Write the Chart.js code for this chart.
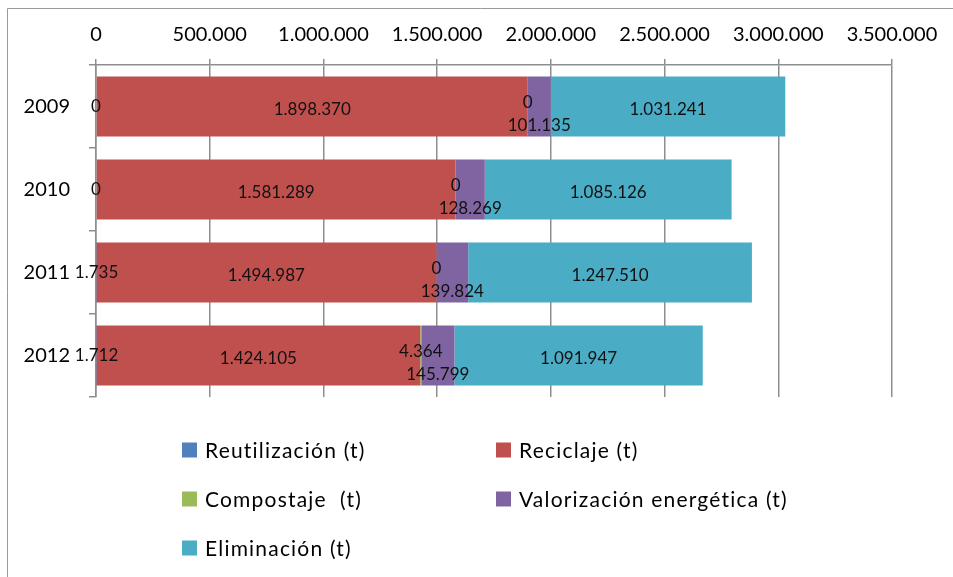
<!DOCTYPE html>
<html>
<head>
<meta charset="utf-8">
<script src="https://cdn.jsdelivr.net/npm/chart.js@4/dist/chart.umd.min.js"></script>
<style>
  html, body { margin: 0; padding: 0; background: #fff; }
  #wrap { position: relative; width: 953px; height: 577px; }
</style>
</head>
<body>
<div id="wrap"><canvas id="bar-chart" width="953" height="577"></canvas></div>
<script>
// Datos del gráfico
const anios = ['2009', '2010', '2011', '2012'];
const reutilizacion = [0, 0, 1735, 1712];
const reciclaje = [1898370, 1581289, 1494987, 1424105];
const compostaje = [0, 0, 0, 4364];
const valorizacion = [101135, 128269, 139824, 145799];
const eliminacion = [1031241, 1085126, 1247510, 1091947];
const ticksX = [0, 500000, 1000000, 1500000, 2000000, 2500000, 3000000, 3500000];

const fuente = 'Lato, "Open Sans", sans-serif';
const gris = '#8e8e8e';

function formato(v) {
    return String(Math.round(v)).replace(/\B(?=(\d{3})+(?!\d))/g, '.');
}

// desplazamiento vertical de las etiquetas por serie
const desplLabels = [0, 3, -4, 19, 3];

const etiquetasPlugin = {
    id: 'etiquetas',
    afterDatasetsDraw(chart) {
        const ctx = chart.ctx;
        ctx.save();
        ctx.font = '17px ' + fuente;
        ctx.fillStyle = '#111';
        ctx.textAlign = 'center';
        ctx.textBaseline = 'middle';
        chart.data.datasets.forEach((ds, i) => {
            chart.getDatasetMeta(i).data.forEach((bar, j) => {
                const cx = (bar.x + bar.base) / 2;
                ctx.fillText(formato(ds.data[j]), cx, bar.y + desplLabels[i]);
            });
        });
        ctx.restore();
    }
};

const leyendaPlugin = {
    id: 'leyendaGrid',
    afterDraw(chart) {
        const ctx = chart.ctx;
        const cols = [182, 496];
        const filas = [450, 499, 548];
        ctx.save();
        ctx.font = '21px ' + fuente;
        ctx.letterSpacing = '1.2px';
        ctx.textBaseline = 'middle';
        ctx.textAlign = 'left';
        chart.data.datasets.forEach((ds, i) => {
            const x = cols[i % 2];
            const y = filas[Math.floor(i / 2)];
            ctx.fillStyle = ds.backgroundColor;
            ctx.fillRect(x, y - 7.5, 15, 15);
            ctx.fillStyle = '#000';
            ctx.fillText(ds.label, x + 23, y + 1);
        });
        ctx.restore();
    }
};

const marcoPlugin = {
    id: 'marco',
    beforeDraw(chart) {
        const ctx = chart.ctx;
        ctx.save();
        ctx.strokeStyle = '#9a9a9a';
        ctx.lineWidth = 1;
        ctx.beginPath();
        ctx.moveTo(7.5, chart.height);
        ctx.lineTo(7.5, 8.5);
        ctx.lineTo(chart.width, 8.5);
        ctx.stroke();
        ctx.restore();
    }
};

const config = {
    type: 'bar',
    data: {
        labels: anios,
        datasets: [
            { label: 'Reutilización (t)', data: reutilizacion, backgroundColor: '#4F81BD' },
            { label: 'Reciclaje (t)', data: reciclaje, backgroundColor: '#C0504D' },
            { label: 'Compostaje  (t)', data: compostaje, backgroundColor: '#9BBB59' },
            { label: 'Valorización energética (t)', data: valorizacion, backgroundColor: '#8064A2' },
            { label: 'Eliminación (t)', data: eliminacion, backgroundColor: '#4BACC6' }
        ]
    },
    options: {
        indexAxis: 'y',
        responsive: false,
        animation: false,
        layout: { padding: { left: 0, right: 61, top: 0, bottom: 180 } },
        datasets: {
            bar: { barPercentage: 0.72, categoryPercentage: 1, borderWidth: 0 }
        },
        plugins: {
            legend: { display: false },
            tooltip: { enabled: false }
        },
        scales: {
            x: {
                position: 'top',
                stacked: true,
                min: 0,
                max: 3500000,
                afterBuildTicks(scale) {
                    scale.ticks = ticksX.map(v => ({ value: v }));
                },
                afterFit(scale) { scale.height = 65; },
                grid: { color: gris, lineWidth: 1.5, tickLength: 6, drawOnChartArea: true },
                border: { display: true, color: gris, width: 1.5 },
                ticks: {
                    padding: 12,
                    color: '#000',
                    font: { family: fuente, size: 20 },
                    maxRotation: 0,
                    callback: v => formato(v)
                }
            },
            y: {
                stacked: true,
                afterFit(scale) { scale.width = 96; },
                grid: { offset: true, drawOnChartArea: false, color: gris, lineWidth: 1.5, tickLength: 7 },
                border: { display: true, color: gris, width: 1.5 },
                ticks: {
                    padding: 19,
                    color: '#000',
                    font: { family: fuente, size: 20 }
                }
            }
        }
    },
    plugins: [marcoPlugin, etiquetasPlugin, leyendaPlugin]
};

window.onload = function () {
    const ctx = document.getElementById('bar-chart').getContext('2d');
    new Chart(ctx, config);
};
</script>
</body>
</html>
